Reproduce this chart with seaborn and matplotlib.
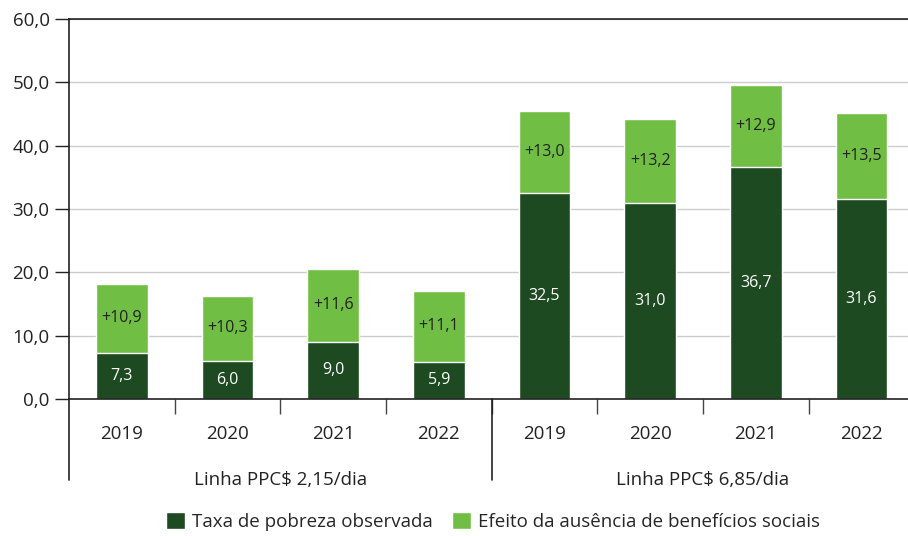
import numpy as np
import pandas as pd
import matplotlib
matplotlib.use("Agg")
import matplotlib.pyplot as plt
import matplotlib.transforms as mtransforms
from matplotlib.patches import Patch
import seaborn as sns

# Dados
anos = ["2019", "2020", "2021", "2022"]
linhas = ["Linha PPC$ 2,15/dia", "Linha PPC$ 6,85/dia"]
taxa_observada = [7.3, 6.0, 9.0, 5.9, 32.5, 31.0, 36.7, 31.6]
efeito_beneficios = [10.9, 10.3, 11.6, 11.1, 13.0, 13.2, 12.9, 13.5]
yticks = [0, 10, 20, 30, 40, 50, 60]

COR_ESCURA = "#1d4a20"
COR_CLARA = "#70bf44"

sns.set_style("white")
plt.rcParams["font.family"] = ["Open Sans", "DejaVu Sans"]

# Monta a tabela
categorias = [f"{a} | {l}" for l in linhas for a in anos]
df = pd.DataFrame({
    "categoria": categorias,
    "observada": taxa_observada,
    "efeito": efeito_beneficios,
})
df["total"] = df["observada"] + df["efeito"]

fig = plt.figure(figsize=(9.08, 5.36), dpi=100)
ax = fig.add_axes([69 / 908, 137 / 536, 1 - 69 / 908, 380 / 536])

# Barras empilhadas: total (claro) por trás, observada (escura) por cima
sns.barplot(data=df, x="categoria", y="total", color=COR_CLARA, width=0.49,
            saturation=1, ax=ax, order=categorias)
sns.barplot(data=df, x="categoria", y="observada", color=COR_ESCURA, width=0.49,
            saturation=1, ax=ax, order=categorias)

# Rótulos dentro das barras
for i, row in df.iterrows():
    ax.text(i, row["observada"] / 2, f"{row['observada']:.1f}".replace(".", ","),
            ha="center", va="center", color="white", fontsize=11.5)
    ax.text(i, row["observada"] + row["efeito"] / 2,
            f"+{row['efeito']:.1f}".replace(".", ","),
            ha="center", va="center", color="#222222", fontsize=11.5)

# Eixo y
ax.set_ylim(0, 60)
ax.set_yticks(yticks)
ax.set_yticklabels([f"{v:.1f}".replace(".", ",") for v in yticks], fontsize=13.5,
                   color="#222222")
ax.tick_params(axis="y", length=10, width=1, color="#222222", pad=4, left=True)
ax.yaxis.grid(True, color="#cccccc", linewidth=1)
ax.set_axisbelow(True)

# Eixo x em dois níveis
n = len(categorias)
ax.set_xlim(-0.5, 7.44)
ax.set_xticks(np.arange(0.5, n - 1, 1.0))
ax.set_xticklabels([])
ax.tick_params(axis="x", length=11, width=1, color="#444444", bottom=True)
ax.set_xlabel("")
ax.set_ylabel("")

for s in ["top", "left", "bottom"]:
    ax.spines[s].set_color("#222222")
    ax.spines[s].set_linewidth(1.2)
ax.spines["right"].set_visible(False)

trans = mtransforms.blended_transform_factory(ax.transData, ax.transAxes)
for i in range(n):
    ax.text(i, -35 / 380, anos[i % 4], transform=trans, ha="center", va="center",
            fontsize=13.5, color="#222222")
for g, nome in enumerate(linhas):
    ax.text(g * 4 + 1.5, -81 / 380, nome, transform=trans, ha="center", va="center",
            fontsize=13.5, color="#222222")

# Linhas separadoras (eixo esquerdo prolongado e divisória entre grupos)
for xs in [-0.5, 3.5]:
    ax.plot([xs, xs], [0, -81 / 380], transform=trans, color="#222222",
            linewidth=1.2, clip_on=False)

# Legenda
handles = [Patch(facecolor=COR_ESCURA, label="Taxa de pobreza observada"),
           Patch(facecolor=COR_CLARA, label="Efeito da ausência de benefícios sociais")]
fig.legend(handles=handles, loc="lower center", bbox_to_anchor=(0.543, -0.022),
           ncol=2, frameon=False, fontsize=13.5, handlelength=1.0, handleheight=1.0,
           handletextpad=0.4, columnspacing=1.0)

fig.savefig("out.png", dpi=100)
